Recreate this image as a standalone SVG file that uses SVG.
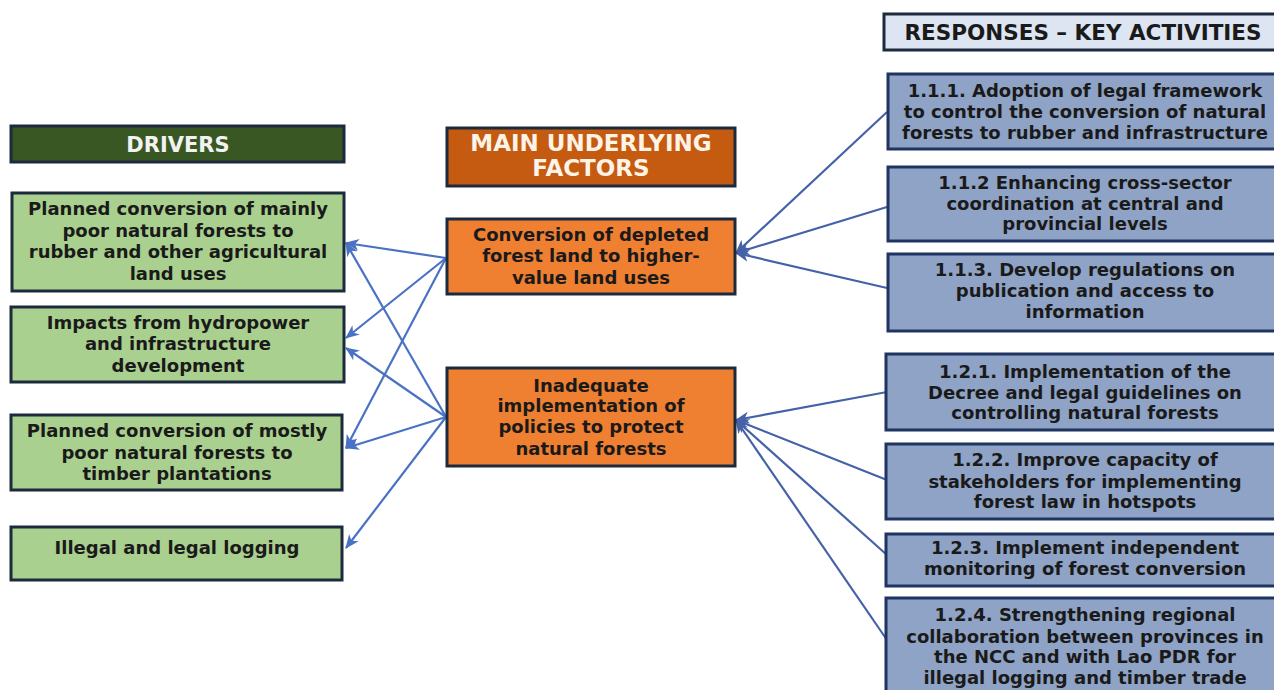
<svg xmlns="http://www.w3.org/2000/svg" width="1274" height="690" viewBox="0 0 1274 690">
<defs>
<style>
.bx{stroke:#1c2a3e;stroke-width:3}
.drv{fill:#a9d08e}
.mid{fill:#ef7f31}
.rsp{fill:#8ea3c5;stroke:#1f3461}
.t{font-family:"DejaVu Sans",Verdana,sans-serif;font-weight:bold;font-size:18px;fill:#1a1a1a;text-anchor:middle}
.h{font-family:"DejaVu Sans",Verdana,sans-serif;font-weight:bold;font-size:21px;text-anchor:middle}
.cl{stroke:#4a72c4;stroke-width:2.2;fill:none}
.cr{stroke:#4562a8;stroke-width:2.2;fill:none}
</style>
<marker id="ah" markerUnits="userSpaceOnUse" markerWidth="14" markerHeight="12" viewBox="0 0 14 12" refX="13" refY="6" orient="auto">
<path d="M0,0 L14,6 L0,12 L4,6 z" fill="#4a72c4"/>
</marker>
<marker id="ahr" markerUnits="userSpaceOnUse" markerWidth="14" markerHeight="12" viewBox="0 0 14 12" refX="13" refY="6" orient="auto">
<path d="M0,0 L14,6 L0,12 L4,6 z" fill="#4562a8"/>
</marker>
</defs>
<rect width="1274" height="690" fill="#ffffff"/>

<g id="connectors">
<line class="cl" x1="446" y1="258" x2="346" y2="243" marker-end="url(#ah)"/>
<line class="cl" x1="446" y1="258" x2="346" y2="338" marker-end="url(#ah)"/>
<line class="cl" x1="446" y1="258" x2="346" y2="448" marker-end="url(#ah)"/>
<line class="cl" x1="446" y1="417" x2="346" y2="243" marker-end="url(#ah)"/>
<line class="cl" x1="446" y1="417" x2="346" y2="348" marker-end="url(#ah)"/>
<line class="cl" x1="446" y1="417" x2="346" y2="448" marker-end="url(#ah)"/>
<line class="cl" x1="446" y1="417" x2="346" y2="548" marker-end="url(#ah)"/>
<line class="cr" x1="887" y1="112" x2="736" y2="253" marker-end="url(#ahr)"/>
<line class="cr" x1="887" y1="207" x2="736" y2="253" marker-end="url(#ahr)"/>
<line class="cr" x1="887" y1="288" x2="736" y2="253" marker-end="url(#ahr)"/>
<line class="cr" x1="887" y1="392" x2="736" y2="420" marker-end="url(#ahr)"/>
<line class="cr" x1="887" y1="480" x2="736" y2="420" marker-end="url(#ahr)"/>
<line class="cr" x1="887" y1="555" x2="736" y2="420" marker-end="url(#ahr)"/>
<line class="cr" x1="887" y1="640" x2="736" y2="420" marker-end="url(#ahr)"/>
</g>

<g id="hdr-drivers">
<rect class="bx" x="11" y="126" width="333" height="36" fill="#385723"/>
<text class="h" x="178" y="152" fill="#f2f2f2">DRIVERS</text>
</g>
<g id="hdr-factors">
<rect class="bx" x="447" y="128" width="288" height="58" fill="#c55a11"/>
<text class="h" x="591" y="151" fill="#fdf3e6" style="font-size:23px">MAIN UNDERLYING</text>
<text class="h" x="591" y="176" fill="#fdf3e6" style="font-size:23px">FACTORS</text>
</g>
<g id="hdr-responses">
<rect class="bx" x="884" y="14" width="400" height="36" fill="#dde4f2"/>
<text class="h" x="1083" y="40" fill="#1a1a1a" style="font-size:21.5px">RESPONSES – KEY ACTIVITIES</text>
</g>

<g id="d1">
<rect class="bx drv" x="12" y="193" width="332" height="98"/>
<text class="t" x="178" y="215">Planned conversion of mainly</text>
<text class="t" x="178" y="237">poor natural forests to</text>
<text class="t" x="178" y="258">rubber and other agricultural</text>
<text class="t" x="178" y="280">land uses</text>
</g>
<g id="d2">
<rect class="bx drv" x="11" y="307" width="333" height="75"/>
<text class="t" x="178" y="329">Impacts from hydropower</text>
<text class="t" x="178" y="350">and infrastructure</text>
<text class="t" x="178" y="372">development</text>
</g>
<g id="d3">
<rect class="bx drv" x="11" y="415" width="331" height="75"/>
<text class="t" x="177" y="437">Planned conversion of mostly</text>
<text class="t" x="177" y="459">poor natural forests to</text>
<text class="t" x="177" y="480">timber plantations</text>
</g>
<g id="d4">
<rect class="bx drv" x="11" y="527" width="331" height="53"/>
<text class="t" x="177" y="554">Illegal and legal logging</text>
</g>

<g id="f1">
<rect class="bx mid" x="447" y="219" width="288" height="75"/>
<text class="t" x="591" y="241">Conversion of depleted</text>
<text class="t" x="591" y="262">forest land to higher-</text>
<text class="t" x="591" y="284">value land uses</text>
</g>
<g id="f2">
<rect class="bx mid" x="447" y="368" width="288" height="98"/>
<text class="t" x="591" y="392">Inadequate</text>
<text class="t" x="591" y="412">implementation of</text>
<text class="t" x="591" y="433">policies to protect</text>
<text class="t" x="591" y="455">natural forests</text>
</g>

<g id="r111">
<rect class="bx rsp" x="888" y="74" width="396" height="75"/>
<text class="t" x="1085" y="97">1.1.1. Adoption of legal framework</text>
<text class="t" x="1085" y="118">to control the conversion of natural</text>
<text class="t" x="1085" y="139">forests to rubber and infrastructure</text>
</g>
<g id="r112">
<rect class="bx rsp" x="888" y="167" width="396" height="74"/>
<text class="t" x="1085" y="189">1.1.2 Enhancing cross-sector</text>
<text class="t" x="1085" y="210">coordination at central and</text>
<text class="t" x="1085" y="230">provincial levels</text>
</g>
<g id="r113">
<rect class="bx rsp" x="888" y="254" width="396" height="77"/>
<text class="t" x="1085" y="276">1.1.3. Develop regulations on</text>
<text class="t" x="1085" y="297">publication and access to</text>
<text class="t" x="1085" y="318">information</text>
</g>
<g id="r121">
<rect class="bx rsp" x="886" y="354" width="398" height="76"/>
<text class="t" x="1085" y="378">1.2.1. Implementation of the</text>
<text class="t" x="1085" y="399">Decree and legal guidelines on</text>
<text class="t" x="1085" y="419">controlling natural forests</text>
</g>
<g id="r122">
<rect class="bx rsp" x="886" y="444" width="398" height="75"/>
<text class="t" x="1085" y="466">1.2.2. Improve capacity of</text>
<text class="t" x="1085" y="488">stakeholders for implementing</text>
<text class="t" x="1085" y="508">forest law in hotspots</text>
</g>
<g id="r123">
<rect class="bx rsp" x="886" y="534" width="398" height="52"/>
<text class="t" x="1085" y="554">1.2.3. Implement independent</text>
<text class="t" x="1085" y="575">monitoring of forest conversion</text>
</g>
<g id="r124">
<rect class="bx rsp" x="886" y="598" width="398" height="100"/>
<text class="t" x="1085" y="621">1.2.4. Strengthening regional</text>
<text class="t" x="1085" y="643">collaboration between provinces in</text>
<text class="t" x="1085" y="663">the NCC and with Lao PDR for</text>
<text class="t" x="1085" y="684">illegal logging and timber trade</text>
</g>
</svg>
